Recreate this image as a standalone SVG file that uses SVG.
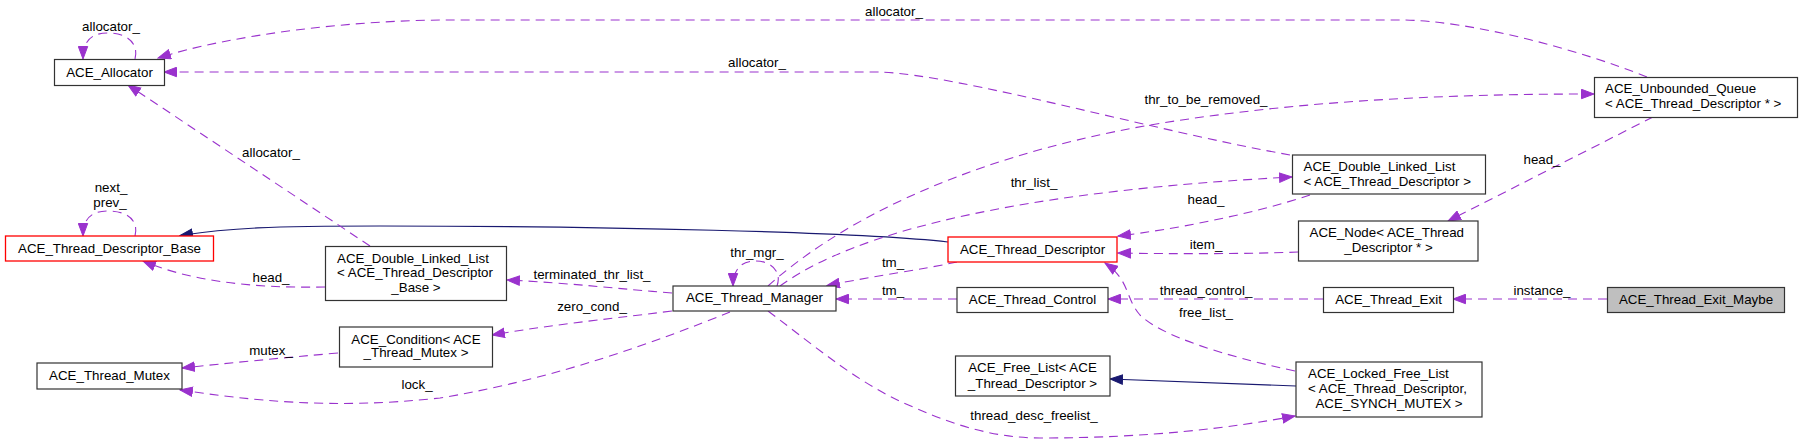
<svg xmlns="http://www.w3.org/2000/svg" width="1803" height="448" viewBox="0 0 1803 448">
<style>
text{font-family:"Liberation Sans",Arial,Helvetica,sans-serif;font-size:13.33px;fill:#000}
.c{text-anchor:middle}
.s{text-anchor:start}
.n{fill:#fff;stroke:#333;stroke-width:1.2}
.r{fill:#fff;stroke:#f00;stroke-width:1.3}
.g{fill:#bfbfbf;stroke:#333;stroke-width:1.2}
.d{fill:none;stroke:#9a32cd;stroke-width:1.1;stroke-dasharray:9,6;marker-end:url(#ap)}
.i{fill:none;stroke:#191970;stroke-width:1.2;marker-end:url(#an)}
</style>
<defs>
<marker id="ap" markerUnits="userSpaceOnUse" markerWidth="14" markerHeight="11" refX="13" refY="5.5" orient="auto" viewBox="0 0 14 11"><path d="M0.5,0.8 L13,5.5 L0.5,10.2 z" fill="#9a32cd" stroke="#9a32cd" stroke-width="1"/></marker>
<marker id="an" markerUnits="userSpaceOnUse" markerWidth="14" markerHeight="11" refX="13" refY="5.5" orient="auto" viewBox="0 0 14 11"><path d="M0.5,0.8 L13,5.5 L0.5,10.2 z" fill="#191970" stroke="#191970" stroke-width="1"/></marker>
</defs>
<rect width="1803" height="448" fill="#fff"/>
<g id="edges">
<path class="d" d="M135,59 C139,44 128,33 108,33 C92,33 83,40 83,59"/>
<text class="c" x="111" y="31">allocator_</text>
<path class="d" d="M135,236 C139,221 128,211 108,211 C92,211 83,218 83,236"/>
<text class="c" x="111" y="192">next_</text>
<text class="c" x="110" y="207">prev_</text>
<path class="i" d="M948,242 C860,232 600,226 380,226 C270,226 230,228 180,235.5"/>
<path class="d" d="M325,287 C270,288 200,285 143,261"/>
<text class="c" x="271" y="282">head_</text>
<path class="d" d="M370,246 L128,85"/>
<text class="c" x="271" y="157">allocator_</text>
<path class="d" d="M1647,77 C1580,50 1470,20 1400,20 L450,20 C350,20 230,35 158,58"/>
<text class="c" x="894" y="16">allocator_</text>
<path class="d" d="M1290,155 C1150,130 960,75 880,72 L164,72"/>
<text class="c" x="757" y="67">allocator_</text>
<path class="d" d="M768,286 C830,230 950,160 1150,125 C1300,100 1450,94 1594,94"/>
<text class="c" x="1206" y="104">thr_to_be_removed_</text>
<path class="d" d="M780,286 C830,250 950,195 1292,177"/>
<text class="c" x="1034" y="187">thr_list_</text>
<path class="d" d="M957,262 C920,270 880,275 827,285.5"/>
<text class="c" x="893" y="267">tm_</text>
<path class="d" d="M957,299 L836,299"/>
<text class="c" x="893" y="295">tm_</text>
<path class="d" d="M1323,299 L1108,299"/>
<text class="c" x="1206" y="295">thread_control_</text>
<path class="d" d="M1607,299 L1453,299"/>
<text class="c" x="1542" y="295">instance_</text>
<path class="d" d="M1310,195 C1250,215 1170,230 1118,236"/>
<text class="c" x="1206" y="204">head_</text>
<path class="d" d="M1298,252 C1250,254 1170,254 1118,253"/>
<text class="c" x="1206" y="249">item_</text>
<path class="d" d="M1295,371 C1220,355 1160,335 1140,315 C1125,298 1130,280 1105,263"/>
<text class="c" x="1206" y="317">free_list_</text>
<path class="i" d="M1296,386 L1110,379"/>
<path class="d" d="M768,311 C820,350 860,385 913,407 C960,428 1000,438 1040,438 C1150,438 1230,428 1295,416"/>
<text class="c" x="1034" y="420">thread_desc_freelist_</text>
<path class="d" d="M730,312 C660,340 560,378 440,398 C330,410 250,400 180,390"/>
<text class="c" x="417" y="389">lock_</text>
<path class="d" d="M672,311 C600,320 550,325 492,335"/>
<text class="c" x="592" y="311">zero_cond_</text>
<path class="d" d="M672,293 C620,289 570,283 507,280"/>
<text class="c" x="592" y="279">terminated_thr_list_</text>
<path class="d" d="M338,353 C280,358 230,363 182,368"/>
<text class="c" x="271" y="355">mutex_</text>
<path class="d" d="M777,286 C782,272 772,261 755,261 C741,261 733,270 733,286"/>
<text class="c" x="757" y="257">thr_mgr_</text>
<path class="d" d="M1653,117 L1448,221"/>
<text class="c" x="1542" y="164">head_</text>
</g>
<g id="ACE_Allocator"><rect class="n" x="54.5" y="59.5" width="110" height="26"/><text class="c" x="109.5" y="76.5">ACE_Allocator</text></g>
<g id="ACE_Thread_Descriptor_Base"><rect class="r" x="5.5" y="236" width="208" height="25"/><text class="c" x="109.5" y="252.5">ACE_Thread_Descriptor_Base</text></g>
<g id="ACE_Double_Linked_List_Base"><rect class="n" x="325.5" y="246.5" width="181" height="54"/><text class="s" x="337" y="262.5">ACE_Double_Linked_List</text><text class="s" x="337" y="277">&lt; ACE_Thread_Descriptor</text><text class="c" x="416" y="291.5">_Base &gt;</text></g>
<g id="ACE_Thread_Mutex"><rect class="n" x="37" y="363" width="145" height="26"/><text class="c" x="109.5" y="380">ACE_Thread_Mutex</text></g>
<g id="ACE_Condition"><rect class="n" x="339.5" y="327" width="153" height="40"/><text class="c" x="416" y="343.5">ACE_Condition&lt; ACE</text><text class="c" x="416" y="357">_Thread_Mutex &gt;</text></g>
<g id="ACE_Thread_Manager"><rect class="n" x="673" y="286" width="163" height="25"/><text class="c" x="754.5" y="302">ACE_Thread_Manager</text></g>
<g id="ACE_Thread_Descriptor"><rect class="r" x="948" y="237" width="169" height="25"/><text class="c" x="1032.5" y="253.5">ACE_Thread_Descriptor</text></g>
<g id="ACE_Thread_Control"><rect class="n" x="957" y="287.5" width="151" height="25"/><text class="c" x="1032.5" y="304">ACE_Thread_Control</text></g>
<g id="ACE_Free_List"><rect class="n" x="955.5" y="356" width="154.5" height="40"/><text class="c" x="1032.5" y="372">ACE_Free_List&lt; ACE</text><text class="c" x="1032.5" y="387.5">_Thread_Descriptor &gt;</text></g>
<g id="ACE_Double_Linked_List_TD"><rect class="n" x="1292.5" y="155" width="193" height="39"/><text class="s" x="1303.5" y="171">ACE_Double_Linked_List</text><text class="s" x="1303.5" y="185.5">&lt; ACE_Thread_Descriptor &gt;</text></g>
<g id="ACE_Node"><rect class="n" x="1298.5" y="221" width="179.5" height="40"/><text class="s" x="1309.5" y="237">ACE_Node&lt; ACE_Thread</text><text class="c" x="1388.5" y="252">_Descriptor * &gt;</text></g>
<g id="ACE_Locked_Free_List"><rect class="n" x="1296" y="362" width="186" height="55"/><text class="s" x="1308" y="377.5">ACE_Locked_Free_List</text><text class="s" x="1308" y="393">&lt; ACE_Thread_Descriptor,</text><text class="c" x="1389" y="407.5">ACE_SYNCH_MUTEX &gt;</text></g>
<g id="ACE_Thread_Exit"><rect class="n" x="1323.5" y="287.5" width="130" height="25"/><text class="c" x="1388.5" y="304">ACE_Thread_Exit</text></g>
<g id="ACE_Unbounded_Queue"><rect class="n" x="1594.5" y="77.5" width="203" height="40"/><text class="s" x="1605" y="93">ACE_Unbounded_Queue</text><text class="s" x="1605" y="108">&lt; ACE_Thread_Descriptor * &gt;</text></g>
<g id="ACE_Thread_Exit_Maybe"><rect class="g" x="1607.5" y="287.5" width="177" height="25"/><text class="c" x="1696" y="304">ACE_Thread_Exit_Maybe</text></g>
</svg>
